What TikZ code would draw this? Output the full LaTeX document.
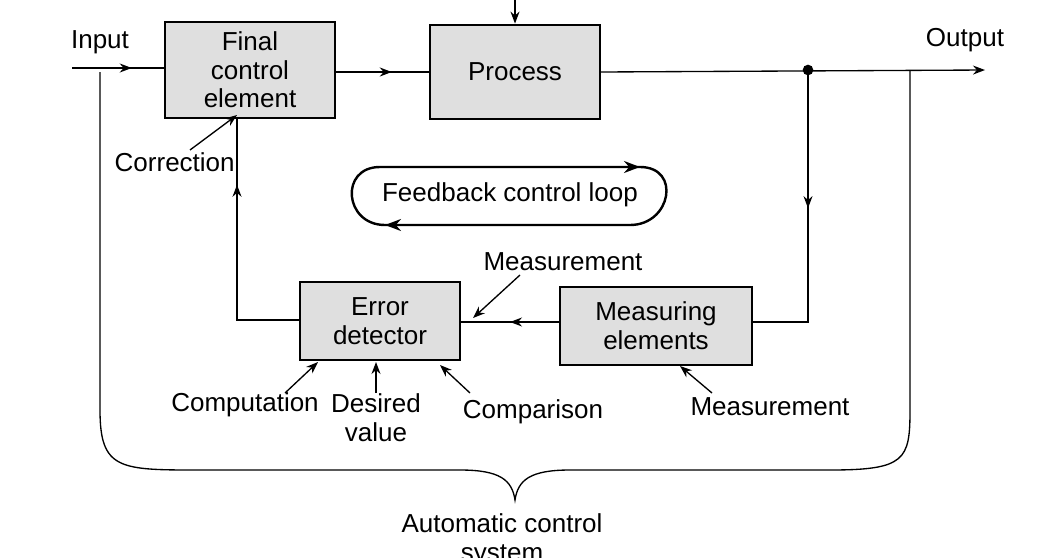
\documentclass[tikz,border=0pt]{standalone}
\usepackage{fontspec}
\setmainfont{Liberation Sans}
\usetikzlibrary{arrows.meta,decorations.markings}
\begin{document}
\begin{tikzpicture}[x=0.75pt,y=-0.75pt,
  box/.style={draw,line width=1.6pt,fill=gray!25,align=center,font=\fontsize{19.5}{21.5}\selectfont,inner sep=0pt},
  lbl/.style={font=\fontsize{19.5}{21.5}\selectfont,align=center},
  ln/.style={line width=1pt},
  mid/.style={ln,decoration={markings,mark=at position #1 with {\arrow{Stealth[length=9pt]}}},postaction=decorate},
  pt/.style={ln,-{Stealth[length=9pt]}}]
\useasboundingbox (0,0) rectangle (1062,557);
\node[box,minimum width=127.5pt,minimum height=72pt] (fce) at (250,70) {Final\\control\\element};
\node[box,minimum width=127.5pt,minimum height=71pt] (proc) at (515,72) {Process};
\node[box,minimum width=120pt,minimum height=58pt] (err) at (380,321) {Error\\detector};
\node[box,minimum width=144pt,minimum height=58pt] (meas) at (656,326) {Measuring\\elements};
\coordinate (in) at (72,68);
\coordinate (top) at (515,0);
\coordinate (out) at (985,70);
\coordinate (tap) at (808,70);
\coordinate (c1) at (808,322);
\coordinate (c2) at (237,320);
\fill (tap) circle (4pt);
\node[lbl] at (100,42) {Input};
\node[lbl] at (965,40) {Output};
\draw[mid=0.65] (in) -- (in-|fce.west);
\draw[mid=0.6] (fce.east|-proc) -- (proc.west);
\draw[pt] (top) -- (proc.north);
\draw[pt] (proc.east) -- (out);
\draw[mid=0.45] (tap) -- (c1) -- (meas.east|-c1);
\draw[mid=0.5] (meas.west|-c1) -- (err.east|-c1);
\draw[mid=0.75] (err.west|-c2) -- (c2) -- (c2|-fce.south);
% feedback loop
\node[lbl] (fb) at (510,195) {Feedback control loop};
\coordinate (l1) at (380,167);
\coordinate (l2) at (640,167);
\coordinate (l3) at (630,225);
\coordinate (l4) at (385,225);
\draw[line width=1.8pt] (l1) -- (l2) to[out=0,in=0,looseness=1.8] (l3) -- (l4) to[out=180,in=180,looseness=1.8] (l1);
\draw[line width=1.8pt,-{Stealth[length=12pt,width=9pt]}] (600,167) -- (l2);
\draw[line width=1.8pt,-{Stealth[length=12pt,width=9pt]}] (420,225) -- (l4);
% labels
\node[lbl,anchor=west] (corr) at (110,162) {Correction};
\draw[pt] (190,150) -- (237,115);
\node[lbl] (m1) at (563,262) {Measurement};
\draw[pt] (520,275) -- (473,318);
\node[lbl] (comp) at (245,405) {Computation};
\draw[pt] (285,393) -- (318,362);
\node[lbl] (des) at (376,418) {Desired\\value};
\draw[pt] (376,393) -- (376,362);
\node[lbl] (cmp) at (533,412) {Comparison};
\draw[pt] (470,393) -- (440,365);
\node[lbl] (m2) at (770,407) {Measurement};
\draw[pt] (712,393) -- (680,366);
% brace
\draw[ln] (100,72) -- (100,410) .. controls (100,470) and (120,470) .. (200,470) -- (460,470) .. controls (500,470) and (512,480) .. (515,500)
 .. controls (518,480) and (530,470) .. (570,470) -- (830,470) .. controls (905,470) and (910,460) .. (910,410) -- (910,70);
\node[lbl] at (502,540) {Automatic control\\system};
\end{tikzpicture}
\end{document}
